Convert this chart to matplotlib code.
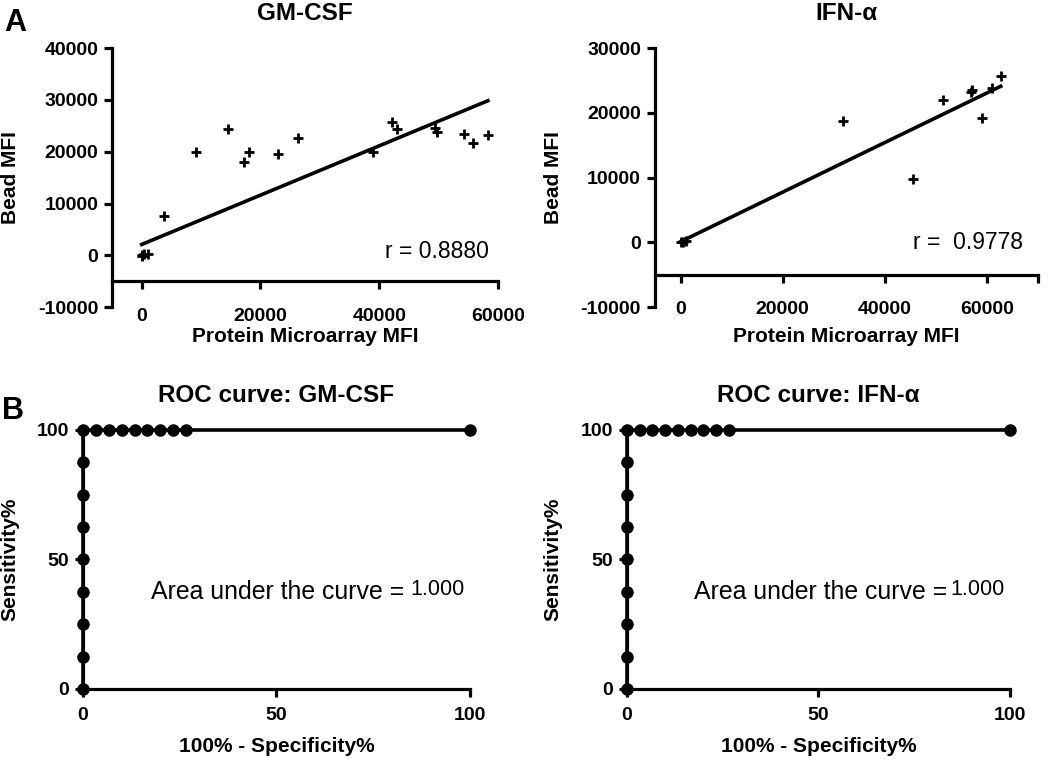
import matplotlib.pyplot as plt
import numpy as np

plt.rcParams['font.family'] = ['Liberation Sans', 'DejaVu Sans']
plt.rcParams['axes.unicode_minus'] = False

# Panel A: GM-CSF, protein microarray MFI vs bead MFI
gm_x = [0, 300, 1000, 100, 3700, 9200, 14500, 17200, 18000, 23000, 26300,
        38900, 42100, 43000, 49400, 49800, 54300, 55800, 58300]
gm_y = [0, 300, 200, -200, 7500, 20000, 24400, 18000, 20000, 19500, 22600,
        20000, 25700, 24300, 24600, 23900, 23400, 21700, 23200]
gm_fit = (0.476, 2100)   # slope, intercept
gm_r = "r = 0.8880"

# Panel A: IFN-alpha
ifn_x = [0, 500, 1100, 31900, 45600, 51300, 56800, 57000, 59000, 61000, 62700]
ifn_y = [0, 100, 150, 18700, 9800, 22000, 23300, 23600, 19200, 23900, 25700]
ifn_fit = (0.383, 100)
ifn_r = "r =  0.9778"

# Panel B: ROC curves (same shape for both)
roc_fpr = [0, 0, 0, 0, 0, 0, 0, 0, 0, 3.33, 6.67, 10, 13.33, 16.67, 20,
           23.33, 26.67, 100]
roc_tpr = [0, 12.5, 25, 37.5, 50, 62.5, 75, 87.5, 100, 100, 100, 100, 100,
           100, 100, 100, 100, 100]
auc_text = "1.000"

LW = 2.3
fig = plt.figure(figsize=(10.5, 7.64), dpi=100)


def style(ax):
    for s in ["top", "right"]:
        ax.spines[s].set_visible(False)
    for s in ["left", "bottom"]:
        ax.spines[s].set_linewidth(LW)
    ax.tick_params(width=LW, length=6, labelsize=14, pad=4)
    for lab in ax.get_xticklabels() + ax.get_yticklabels():
        lab.set_fontweight("bold")


def scatter_panel(rect, x, y, fit, rtext, title, xlim, ylim, yticks, xticks,
                  xlabels, rpos, ylab_x):
    ax = fig.add_axes(rect)
    ax.plot(x, y, "+", color="black", ms=7, mew=2, clip_on=False)
    xs = np.array([min(x), max(x)])
    ax.plot(xs, fit[0] * xs + fit[1], color="black", lw=2.6)
    ax.set_xlim(xlim)
    ax.set_ylim(ylim)
    ax.spines["bottom"].set_position(("data", -5000))
    ax.set_yticks(yticks)
    ax.set_xticks(xticks)
    ax.set_xticklabels(xlabels)
    style(ax)
    ax.tick_params(axis="x", pad=13)
    ax.set_title(title, fontsize=17.5, fontweight="bold", pad=20)
    ax.set_ylabel("Bead MFI", fontsize=15, fontweight="bold")
    ax.yaxis.set_label_coords(ylab_x, 0.5)
    ax.set_xlabel("Protein Microarray MFI", fontsize=15, fontweight="bold")
    ax.xaxis.set_label_coords(0.5, -0.075)
    ax.text(rpos[0], rpos[1], rtext, ha="right", va="center", fontsize=16.5)
    return ax


def roc_panel(rect, title, ylab_x):
    ax = fig.add_axes(rect)
    ax.plot(roc_fpr, roc_tpr, "-o", color="black", lw=2.6, ms=8,
            clip_on=False, zorder=5)
    ax.set_xlim(0, 100)
    ax.set_ylim(0, 100)
    ax.set_xticks([0, 50, 100])
    ax.set_yticks([0, 50, 100])
    style(ax)
    ax.tick_params(axis="x", pad=7)
    ax.set_title(title, fontsize=17.5, fontweight="bold", pad=20)
    ax.set_ylabel("Sensitivity%", fontsize=15, fontweight="bold")
    ax.yaxis.set_label_coords(ylab_x, 0.5)
    ax.set_xlabel("100% - Specificity%", fontsize=15, fontweight="bold")
    ax.xaxis.set_label_coords(0.5, -0.185)
    ax.text(17.5, 37.3, "Area under the curve =", ha="left", va="center",
            fontsize=17.9)
    ax.text(84.5, 38.6, auc_text, ha="left", va="center", fontsize=15.5)
    return ax


scatter_panel([0.1067, 0.598, 0.3676, 0.339], gm_x, gm_y, gm_fit, gm_r,
              "GM-CSF", (-5000, 60000), (-10000, 40000),
              [-10000, 0, 10000, 20000, 30000, 40000],
              [0, 20000, 40000, 60000], ["0", "20000", "40000", "60000"],
              (58500, 800), -0.238)
scatter_panel([0.6238, 0.598, 0.3648, 0.339], ifn_x, ifn_y, ifn_fit, ifn_r,
              "IFN-\u03b1", (-5000, 70000), (-10000, 30000),
              [-10000, 0, 10000, 20000, 30000],
              [0, 20000, 40000, 60000, 70000],
              ["0", "20000", "40000", "60000", ""],
              (67000, 0), -0.240)

roc_panel([0.079, 0.0982, 0.3686, 0.339], "ROC curve: GM-CSF", -0.163)
roc_panel([0.597, 0.0982, 0.3648, 0.339], "ROC curve: IFN-\u03b1", -0.167)

fig.text(15 / 1050, 1 - 23 / 764, "A", fontsize=22, fontweight="bold",
         ha="center", va="center")
fig.text(13 / 1050, 1 - 411 / 764, "B", fontsize=22, fontweight="bold",
         ha="center", va="center")

fig.savefig("out.png", dpi=100)
